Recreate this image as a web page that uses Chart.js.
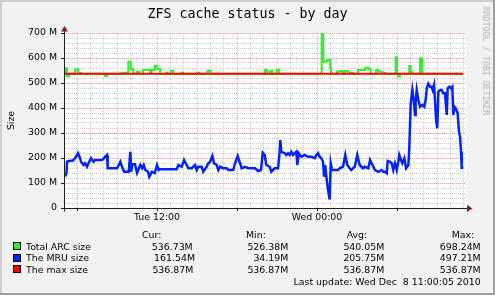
<!DOCTYPE html>
<html><head><meta charset="utf-8">
<script src="https://cdn.jsdelivr.net/npm/chart.js@4.4.1/dist/chart.umd.min.js"></script>
<style>
html,body{margin:0;padding:0;background:#f2f2f2;}
#wrap{position:relative;width:495px;height:295px;overflow:hidden;}
#c{position:absolute;left:0;top:0;}
.t{position:absolute;white-space:pre;line-height:1;font-family:"DejaVu Sans",sans-serif;font-size:9.4px;color:#000;}
.sw{position:absolute;width:6px;height:6px;border:1px solid #000;}
#title{position:absolute;left:0;top:7.4px;width:495px;text-align:center;font-family:"DejaVu Sans Mono",monospace;font-size:13.3px;line-height:1;color:#000;white-space:pre;}
#wm{position:absolute;left:485.5px;top:60.5px;transform:translate(-50%,-50%) rotate(90deg);font-family:"DejaVu Sans Mono",monospace;font-size:8.2px;color:#b4b4b4;white-space:pre;line-height:1;}
</style></head>
<body><div id="wrap"><canvas id="c" width="495" height="295"></canvas>
<div id="title">ZFS cache status - by day</div>
<div id="wm">RRDTOOL / TOBI OETIKER</div>
<div id="legend"></div></div>
<script>
// ---- data (time in hours since Tue 00:00, values in M) ----
const seriesNames = ['Total ARC size', 'The MRU size', 'The max size'];
const seriesColors = ['#2ef02e', '#0022ff', '#ff0000'];
const curVals = ['536.73M', '161.54M', '536.87M'];
const minVals = ['526.38M', '34.19M', '536.87M'];
const avgVals = ['540.05M', '205.75M', '536.87M'];
const maxVals = ['698.24M', '497.21M', '536.87M'];
const lastUpdate = 'Last update: Wed Dec  8 11:00:05 2010';
const xLabelHours = [12, 24];
const xLabelTexts = ['Tue 12:00', 'Wed 00:00'];
const yLabelValues = [0, 100, 200, 300, 400, 500, 600, 700];
const yLabelTexts = ['0', '100 M', '200 M', '300 M', '400 M', '500 M', '600 M', '700 M'];

const arcPoints = [
 [5.10,536.7],[5.15,559],[5.25,527],[5.40,536.7],[5.85,555],[6.08,541],[6.28,536.7],
 [8.10,528],[8.25,536.7],[9.35,541],[9.85,585],[10.03,556],[10.22,536.7],[10.48,545],[10.67,536.7],
 [10.95,552],[11.48,536.7],[11.60,552],[11.85,569],[12.02,556],[12.23,536.7],[12.65,541],[12.80,536.7],
 [13.05,548],[13.22,536.7],[13.85,541],[13.97,536.7],[14.98,541],[15.15,536.7],[15.80,549],[16.03,536.7],
 [20.10,552],[20.27,536.7],[20.48,548],[20.65,536.7],[20.98,552],[21.17,536.7],
 [24.35,698],[24.47,585],[24.73,592],[24.98,560],[25.05,536.7],[25.48,545],[25.67,548],[25.93,536.7],
 [26.10,548],[26.35,536.7],[26.48,541],[26.70,536.7],[27.08,552],[27.60,561],[27.85,555],[28.03,536.7],
 [28.43,552],[28.60,545],[28.85,541],[29.10,536.7],[29.90,603],[30.00,536.7],[30.08,527],[30.23,536.7],
 [30.92,568],[31.03,545],[31.15,536.7],[31.73,599],[31.88,536.7],[34.95,536.7]
];
const mruPoints = [
 [5.10,126],[5.21,140],[5.25,185],[5.48,189],[5.70,190],[5.85,199],[6.08,219],[6.19,205],[6.30,185],
 [6.49,172],[6.60,179],[6.75,165],[6.86,179],[7.05,199],[7.24,185],[7.35,192],[7.88,192],[8.03,199],
 [8.10,205],[8.25,212],[8.30,159],[8.48,159],[9.00,159],[9.13,172],[9.25,185],[9.38,165],[9.53,145],
 [9.88,145],[10.00,225],[10.07,145],[10.13,175],[10.35,175],[10.50,140],[10.75,172],[10.88,159],
 [11.00,172],[11.12,152],[11.33,145],[11.42,125],[11.63,145],[11.83,139],[12.00,172],[12.13,152],
 [12.23,155],[13.48,155],[13.60,172],[13.85,165],[14.03,192],[14.23,172],[14.35,159],[14.60,159],
 [14.72,165],[14.85,172],[14.98,152],[15.10,165],[15.35,165],[15.47,145],[15.73,165],[15.85,179],
 [15.98,185],[16.15,208],[16.28,179],[16.48,172],[16.60,152],[16.73,165],[16.97,159],[17.23,159],
 [17.35,152],[17.72,152],[17.85,179],[18.05,208],[18.23,179],[18.35,159],[18.60,165],[18.85,159],
 [19.35,159],[19.58,148],[19.80,152],[19.93,221],[20.08,212],[20.20,172],[20.45,165],[20.57,145],
 [20.83,159],[21.08,159],[21.20,225],[21.25,272],[21.32,225],[21.58,219],[21.70,212],[21.83,219],
 [21.95,212],[22.07,225],[22.20,212],[22.45,225],[22.52,172],[22.63,219],[22.82,205],[23.08,212],
 [23.33,205],[23.57,205],[23.83,199],[23.95,212],[24.08,219],[24.20,205],[24.32,199],[24.45,185],
 [24.53,125],[24.62,172],[24.70,125],[24.83,72],[24.95,34],[25.03,179],[25.13,152],[25.58,152],
 [25.70,159],[25.95,165],[26.12,212],[26.27,172],[26.45,159],[26.57,152],[26.83,165],[27.02,212],
 [27.20,172],[27.45,159],[27.58,165],[27.85,159],[27.98,192],[28.10,179],[28.35,152],[28.60,145],
 [28.85,152],[28.97,145],[29.10,145],[29.23,139],[29.30,188],[29.48,185],[29.60,179],[29.72,152],
 [29.85,179],[29.98,152],[30.10,185],[30.17,212],[30.30,192],[30.40,179],[30.55,199],[30.68,159],
 [30.85,172],[30.92,239],[31.03,419],[31.15,472],[31.28,419],[31.35,372],[31.40,425],[31.48,472],
 [31.60,432],[31.73,405],[31.90,412],[32.05,405],[32.15,432],[32.23,479],[32.35,497],[32.48,485],
 [32.60,485],[32.68,472],[32.78,492],[32.85,432],[32.93,352],[33.02,319],[33.10,465],[33.23,472],
 [33.35,472],[33.47,459],[33.60,459],[33.73,372],[33.80,479],[33.92,485],[34.05,479],[34.15,485],
 [34.22,372],[34.30,405],[34.40,399],[34.55,379],[34.65,305],[34.73,285],[34.80,225],[34.85,161],
 [34.97,161]
];
const maxPoints = [[5.10,536.87],[34.95,536.87]];

// ---- legend (HTML text) ----
const legend = document.getElementById('legend');
function txt(s, left, top, right){
  const d = document.createElement('div'); d.className = 't'; d.textContent = s;
  d.style.top = top + 'px';
  if (right !== undefined) d.style.right = (495 - right) + 'px'; else d.style.left = left + 'px';
  legend.appendChild(d);
}
const rowTops = [241.5, 253.2, 264.8];
txt('Cur:', 142, 229.5); txt('Min:', 246, 229.5); txt('Avg:', 346.7, 229.5); txt('Max:', 451.7, 229.5);
const curRight = [192.7, 195, 193.3];
seriesNames.forEach((n, i) => {
  const sw = document.createElement('div'); sw.className = 'sw';
  sw.style.left = '13px'; sw.style.top = (rowTops[i] + 0.5) + 'px'; sw.style.background = seriesColors[i];
  legend.appendChild(sw);
  txt(n, 26, rowTops[i]);
  txt(curVals[i], 0, rowTops[i], curRight[i]);
  txt(minVals[i], 0, rowTops[i], 288.3);
  txt(avgVals[i], 0, rowTops[i], 384.3);
  txt(maxVals[i], 0, rowTops[i], 480.7);
});
txt(lastUpdate, 0, 277.2, 480.7);

// ---- chart ----
const isMult = (v, m) => Math.abs(v / m - Math.round(v / m)) < 1e-6;
const rrdFrame = {
  id: 'rrdFrame',
  beforeDraw(chart) {
    const {ctx, chartArea: a, width, height} = chart;
    ctx.save();
    ctx.fillStyle = '#f2f2f2'; ctx.fillRect(0, 0, width, height);
    ctx.fillStyle = '#cfcfcf'; ctx.fillRect(0, 0, width, 2); ctx.fillRect(0, 0, 2, height);
    ctx.fillStyle = '#9e9e9e'; ctx.fillRect(0, height - 2, width, 2); ctx.fillRect(width - 2, 0, 2, height);
    ctx.fillStyle = '#ffffff'; ctx.fillRect(a.left, a.top, a.right - a.left, a.bottom - a.top);
    ctx.restore();
  },
  afterDatasetsDraw(chart) {
    const {ctx, chartArea: a, scales: {y}} = chart;
    const y0 = Math.round(y.getPixelForValue(0)) + 0.5;
    const x0 = Math.round(a.left) + 0.5;
    ctx.save();
    ctx.strokeStyle = '#1f1f1f'; ctx.lineWidth = 1;
    ctx.beginPath();
    ctx.moveTo(a.left - 2, y0); ctx.lineTo(a.right + 2, y0);
    ctx.moveTo(x0, y0 + 3); ctx.lineTo(x0, a.top - 3);
    ctx.stroke();
    ctx.fillStyle = '#801f1f';
    ctx.beginPath(); ctx.moveTo(a.right + 1, y0 - 3.5); ctx.lineTo(a.right + 6.5, y0); ctx.lineTo(a.right + 1, y0 + 3.5); ctx.closePath(); ctx.fill();
    ctx.beginPath(); ctx.moveTo(x0 - 3.5, a.top - 1.5); ctx.lineTo(x0, a.top - 7); ctx.lineTo(x0 + 3.5, a.top - 1.5); ctx.closePath(); ctx.fill();
    ctx.restore();
  }
};

const minorCol = 'rgba(143,143,143,0.45)';
const majorCol = 'rgba(222,79,79,0.5)';
const tickFont = {family: 'DejaVu Sans', size: 9.4};

new Chart(document.getElementById('c'), {
  type: 'line',
  data: {
    datasets: [
      {label: seriesNames[0], data: arcPoints.map(([x, y]) => ({x, y})), borderColor: seriesColors[0], borderWidth: 2, stepped: true, pointRadius: 0, order: 3, fill: false},
      {label: seriesNames[1], data: mruPoints.map(([x, y]) => ({x, y})), borderColor: seriesColors[1], borderWidth: 2.5, pointRadius: 0, order: 2, fill: false},
      {label: seriesNames[2], data: maxPoints.map(([x, y]) => ({x, y})), borderColor: seriesColors[2], borderWidth: 2, pointRadius: 0, order: 1, fill: false}
    ]
  },
  options: {
    responsive: false, animation: false, devicePixelRatio: 1,
    layout: {padding: {left: 0, right: 29, top: 33, bottom: 67}},
    plugins: {legend: {display: false}, tooltip: {enabled: false}, title: {display: false}},
    elements: {line: {tension: 0}},
    scales: {
      x: {
        type: 'linear', min: 5.025, max: 35.175,
        afterFit(s) { s.height = 20; },
        ticks: {stepSize: 1, includeBounds: false, autoSkip: false, maxRotation: 0, minRotation: 0, padding: 1, color: '#000', font: tickFont,
          callback: (v) => { const i = xLabelHours.indexOf(Math.round(v)); return (i >= 0 && isMult(v, 1)) ? xLabelTexts[i] : ''; }},
        grid: {color: (c) => isMult(c.tick.value, 6) ? majorCol : minorCol, lineWidth: 1, drawTicks: true, tickLength: 3,
          tickColor: '#1f1f1f', tickWidth: (c) => isMult(c.tick.value, 6) ? 1 : 0},
        border: {display: false, dash: [1, 1]}
      },
      y: {
        min: 0, max: 700,
        afterFit(s) { s.width = 64; },
        ticks: {stepSize: 20, includeBounds: false, autoSkip: false, padding: 4, color: '#000', font: tickFont,
          callback: (v) => { const i = yLabelValues.indexOf(Math.round(v)); return (i >= 0 && isMult(v, 100)) ? yLabelTexts[i] : ''; }},
        grid: {color: (c) => isMult(c.tick.value, 100) ? majorCol : minorCol, lineWidth: 1, drawTicks: true, tickLength: 3,
          tickColor: '#1f1f1f', tickWidth: (c) => isMult(c.tick.value, 100) ? 1 : 0},
        border: {display: false, dash: [1, 1]},
        title: {display: true, text: 'Size', color: '#000', font: {family: 'DejaVu Sans', size: 9.4}, padding: {top: 6, bottom: 0}}
      }
    }
  },
  plugins: [rrdFrame]
});
</script>
</body></html>
